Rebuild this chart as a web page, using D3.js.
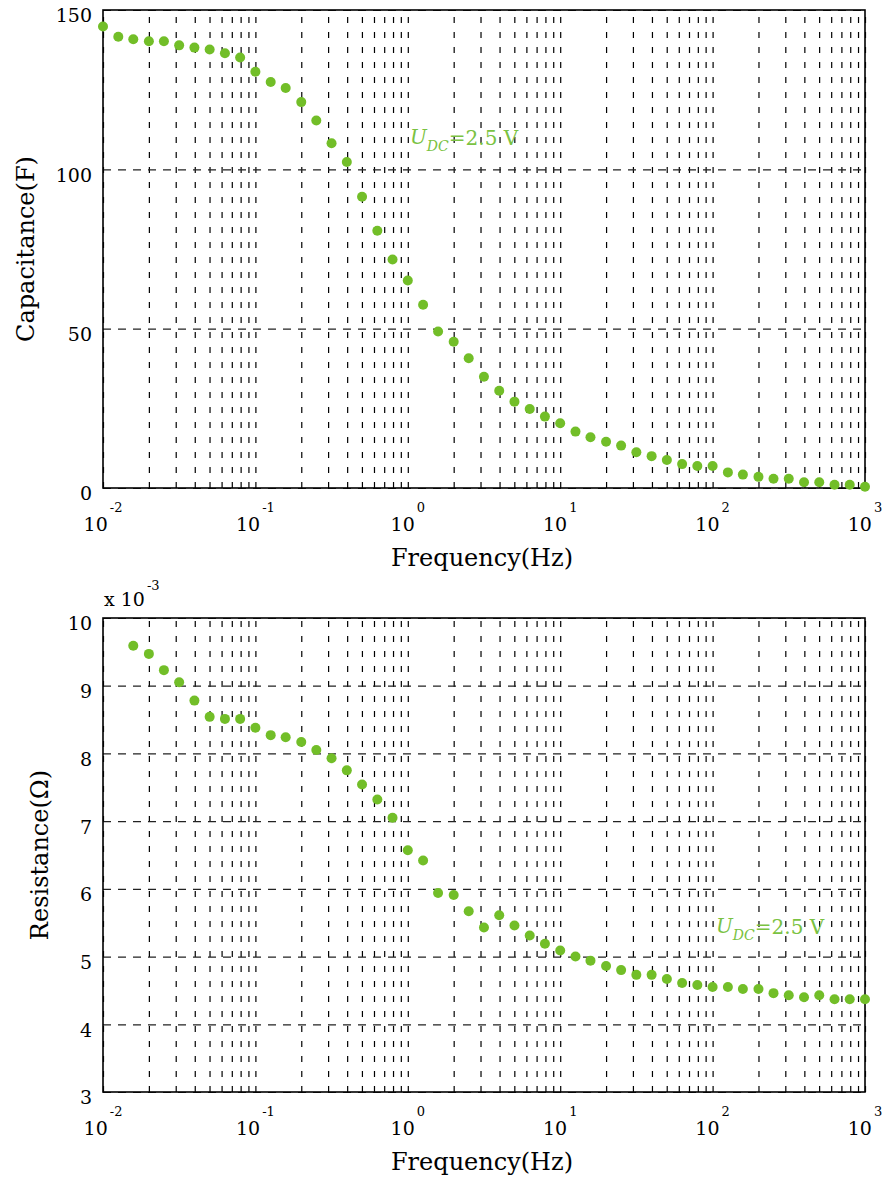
<!DOCTYPE html>
<html>
<head>
<meta charset="utf-8">
<script src="https://cdn.jsdelivr.net/npm/d3@7"></script>
<style>
  body { margin: 0; background: #fff; }
  svg { display: block; }
  text { font-family: "DejaVu Serif", serif; fill: #000; }
</style>
</head>
<body>
<div id="chart"></div>
<script>
// frequencies (Hz), 10 points per decade
const freq = [
  0.01, 0.0126, 0.0158, 0.02, 0.0251, 0.0316, 0.0398, 0.0501, 0.0631, 0.0794,
  0.1, 0.126, 0.158, 0.2, 0.251, 0.316, 0.398, 0.501, 0.631, 0.794,
  1, 1.26, 1.58, 2, 2.51, 3.16, 3.98, 5.01, 6.31, 7.94,
  10, 12.6, 15.8, 20, 25.1, 31.6, 39.8, 50.1, 63.1, 79.4,
  100, 126, 158, 200, 251, 316, 398, 501, 631, 794,
  1000
];
// capacitance (F)
const capacitance = [
  144.8, 141.6, 140.8, 140.2, 140.2, 138.9, 138.2, 137.6, 136.4, 135.1,
  130.6, 127.4, 125.5, 121.1, 115.3, 108.2, 102.3, 91.4, 80.7, 71.7,
  65.1, 57.5, 49.1, 45.9, 40.7, 34.9, 30.5, 27.1, 24.8, 22.4,
  20.3, 17.7, 15.9, 14.5, 13.3, 11.2, 10.0, 8.8, 7.5, 6.9,
  6.9, 4.9, 4.2, 3.5, 2.9, 2.9, 1.8, 1.8, 1.0, 1.0,
  0.4
];
// resistance (x 10^-3 ohm), starts at the third frequency
const resistance = [
  9.59, 9.47, 9.23, 9.05, 8.78, 8.54, 8.51, 8.51,
  8.38, 8.27, 8.24, 8.17, 8.05, 7.93, 7.75, 7.54, 7.32, 7.05,
  6.57, 6.42, 5.94, 5.91, 5.67, 5.43, 5.61, 5.46, 5.31, 5.19,
  5.09, 5.00, 4.94, 4.86, 4.80, 4.73, 4.73, 4.67, 4.61, 4.58,
  4.55, 4.55, 4.52, 4.52, 4.46, 4.43, 4.40, 4.43, 4.37, 4.37,
  4.37
];
const resFreq = freq.slice(2);
const xTickExp = [-2, -1, 0, 1, 2, 3];
const capTicks = [0, 50, 100, 150];
const resTicks = [3, 4, 5, 6, 7, 8, 9, 10];

const width = 882, height = 1177;
const green = '#72be28';
const annGreen = '#7ac242';
const left = 103, right = 865;

const svg = d3.select('#chart').append('svg')
  .attr('width', width)
  .attr('height', height);

const xScale = d3.scaleLog().domain([0.01, 1000]).range([left, right]);

function drawPanel(top, bottom, yDomain, yTicks, xs, ys) {
  const yScale = d3.scaleLinear().domain(yDomain).range([bottom, top]);
  const g = svg.append('g');

  // vertical grid (every 1..9 x 10^n)
  const xGrid = d3.axisBottom(xScale)
    .tickValues(xScale.ticks())
    .tickSize(-(bottom - top))
    .tickFormat('');
  g.append('g')
    .attr('transform', `translate(0,${bottom})`)
    .call(xGrid)
    .call(a => a.select('.domain').remove())
    .selectAll('line')
    .attr('stroke', '#000')
    .attr('stroke-width', 1.2)
    .attr('stroke-dasharray', '6,9');

  // horizontal grid + y labels
  const yAxis = d3.axisLeft(yScale)
    .tickValues(yTicks)
    .tickSize(-(right - left))
    .tickPadding(11)
    .tickFormat(d3.format('d'));
  const yG = g.append('g')
    .attr('transform', `translate(${left},0)`)
    .call(yAxis);
  yG.select('.domain').remove();
  yG.selectAll('line')
    .attr('stroke', '#222')
    .attr('stroke-width', 1.2)
    .attr('stroke-dasharray', '8,7');
  yG.selectAll('text')
    .attr('dy', '0.63em')
    .style('font-size', '19px')
    .style('font-family', '"DejaVu Serif", serif');

  // box
  g.append('rect')
    .attr('x', left).attr('y', top)
    .attr('width', right - left).attr('height', bottom - top)
    .attr('fill', 'none')
    .attr('stroke', '#000')
    .attr('stroke-width', 1.6);

  // x labels 10^n
  xTickExp.forEach(e => {
    const t = g.append('text')
      .attr('x', xScale(Math.pow(10, e)))
      .attr('y', bottom + 43)
      .attr('text-anchor', 'middle')
      .style('font-size', '19px');
    t.append('tspan').text('10');
    t.append('tspan')
      .attr('dx', 2)
      .attr('dy', -19)
      .style('font-size', '13px')
      .text(e < 0 ? '-' + (-e) : String(e));
  });

  // points
  g.selectAll('circle').data(xs.map((f, i) => [f, ys[i]]))
    .enter().append('circle')
    .attr('cx', d => xScale(d[0]))
    .attr('cy', d => yScale(d[1]))
    .attr('r', 5)
    .attr('fill', green);

  return g;
}

function annotate(g, x, y) {
  const t = g.append('text')
    .attr('x', x).attr('y', y)
    .style('font-size', '20px')
    .style('fill', annGreen);
  t.append('tspan').style('font-style', 'italic').text('U');
  t.append('tspan').attr('dy', 7).style('font-style', 'italic').style('font-size', '14px').text('DC');
  t.append('tspan').attr('dy', -6).text('=2.5 V');
}

function xTitle(y) {
  svg.append('text')
    .attr('x', 482).attr('y', y)
    .attr('text-anchor', 'middle')
    .style('font-size', '24px')
    .text('Frequency(Hz)');
}

function yTitle(x, y, label) {
  svg.append('text')
    .attr('transform', `translate(${x},${y}) rotate(-90)`)
    .attr('text-anchor', 'middle')
    .style('font-size', '24px')
    .text(label);
}

// top: capacitance
const gTop = drawPanel(10, 488, [0, 150], capTicks, freq, capacitance);
annotate(gTop, 410, 144);
xTitle(566);
yTitle(34, 249, 'Capacitance(F)');

// bottom: resistance
const gBot = drawPanel(618, 1092, [3, 10], resTicks, resFreq, resistance);
annotate(gBot, 716, 933);
xTitle(1170);
yTitle(48, 855, 'Resistance(Ω)');

const mult = svg.append('text')
  .attr('x', 104).attr('y', 606)
  .style('font-size', '19px');
mult.append('tspan').text('x 10');
mult.append('tspan')
  .attr('dx', 2).attr('dy', -16)
  .style('font-size', '13px')
  .text('-3');
</script>
</body>
</html>
